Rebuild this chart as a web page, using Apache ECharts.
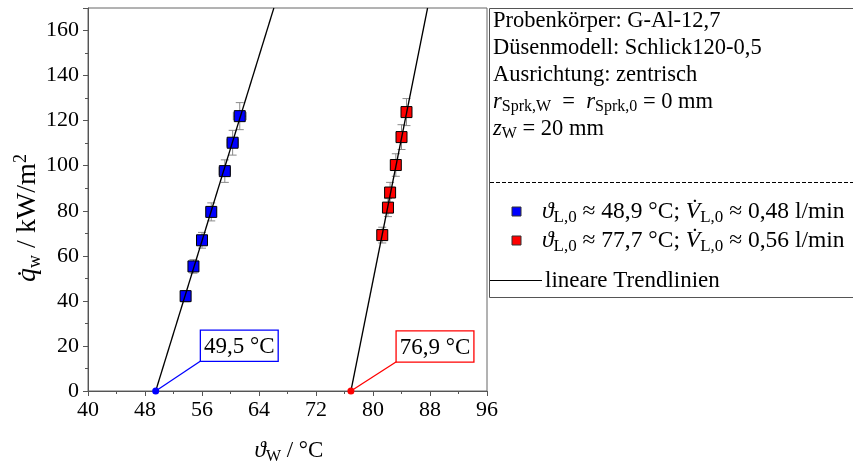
<!DOCTYPE html>
<html>
<head>
<meta charset="utf-8">
<script src="https://cdn.jsdelivr.net/npm/echarts@6/dist/echarts.min.js"></script>
<style>
  html, body { margin: 0; padding: 0; background: #fff; }
  #chart { width: 853px; height: 466px; }
</style>
</head>
<body>
<div id="chart"></div>
<script>
// Wall temperature (°C) vs. heat flux density (kW/m²), two coolant inlet temperatures
const blueTemp   = [53.7, 54.8, 56.0, 57.3, 59.2, 60.3, 61.3];
const blueFlux   = [42.1, 55.3, 66.9, 79.5, 97.6, 110.2, 122.0];
const blueFluxErr = [2.5, 3.0, 3.5, 4.0, 5.0, 5.5, 6.0];
const blueTempErr = [0.5, 0.6, 0.6, 0.7, 0.8, 0.8, 0.9];

const redTemp    = [81.3, 82.1, 82.4, 83.2, 84.0, 84.7];
const redFlux    = [69.2, 81.4, 88.1, 100.3, 112.7, 123.8];
const redFluxErr = [3.5, 4.0, 4.5, 5.0, 5.5, 6.0];
const redTempErr = [0.4, 0.4, 0.5, 0.5, 0.5, 0.6];

// linear trend lines: wall temperature at zero flux and slope in kW/m² per K
const blueIntercept = 49.5, blueSlope = 10.25;
const redIntercept  = 76.9, redSlope  = 15.8;

const xTicks = [40, 48, 56, 64, 72, 80, 88, 96];
const yTicks = [0, 20, 40, 60, 80, 100, 120, 140, 160];

const blueLabel = '49,5 °C';
const redLabel  = '76,9 °C';

const FONT = '"Liberation Serif", "Times New Roman", serif';
const BLUE = '#0000ff', RED = '#ff0000';
const Y_TOP = 170;

// lower-left corner of each annotation box, in data coordinates
const blueBoxAt = [55.86, 13.4];
const redBoxAt  = [83.33, 13.1];

function pairs(xs, ys) { return xs.map((x, i) => [x, ys[i]]); }

function errorBars(xs, ys, ex, ey) {
  return {
    type: 'custom',
    z: 2,
    silent: true,
    data: xs.map((x, i) => [x, ys[i], ex[i], ey[i]]),
    renderItem(params, api) {
      const x = api.value(0), y = api.value(1), dx = api.value(2), dy = api.value(3);
      const top = api.coord([x, y + dy]), bot = api.coord([x, y - dy]);
      const lft = api.coord([x - dx, y]), rgt = api.coord([x + dx, y]);
      const cap = 4;
      const st = { stroke: '#8a8a8a', lineWidth: 1 };
      const seg = (x1, y1, x2, y2) => ({ type: 'line', shape: { x1, y1, x2, y2 }, style: st });
      return {
        type: 'group',
        children: [
          seg(top[0], top[1], bot[0], bot[1]),
          seg(top[0] - cap, top[1], top[0] + cap, top[1]),
          seg(bot[0] - cap, bot[1], bot[0] + cap, bot[1]),
          seg(lft[0], lft[1], rgt[0], rgt[1]),
          seg(lft[0], lft[1] - cap, lft[0], lft[1] + cap),
          seg(rgt[0], rgt[1] - cap, rgt[0], rgt[1] + cap)
        ]
      };
    }
  };
}

function trendLine(intercept, slope) {
  return {
    type: 'line',
    z: 5,
    silent: true,
    symbol: 'none',
    lineStyle: { color: '#000', width: 1.3 },
    data: [[intercept, 0], [intercept + Y_TOP / slope, Y_TOP]]
  };
}

function pointer(intercept, boxAt, color) {
  return {
    type: 'line',
    z: 6,
    silent: true,
    lineStyle: { color, width: 1.3 },
    itemStyle: { color, opacity: 1 },
    data: [
      { value: [intercept, 0], symbol: 'circle', symbolSize: 7 },
      { value: boxAt, symbol: 'none' }
    ]
  };
}

function valueBox(boxAt, text, color) {
  return {
    type: 'scatter',
    z: 7,
    silent: true,
    symbolSize: 0,
    itemStyle: { opacity: 1 },
    data: [boxAt],
    label: {
      show: true,
      formatter: text,
      position: [0, 0],
      align: 'left',
      verticalAlign: 'bottom',
      fontFamily: FONT,
      fontSize: 23,
      color: '#000',
      opacity: 1,
      backgroundColor: '#fff',
      borderColor: color,
      borderWidth: 1.3,
      padding: [5, 3, 2, 3]
    }
  };
}

function markers(xs, ys, color) {
  return {
    type: 'scatter',
    z: 4,
    symbol: 'rect',
    symbolSize: 11,
    itemStyle: { color, borderColor: '#000', borderWidth: 1, opacity: 1 },
    data: pairs(xs, ys)
  };
}

function richSet(size, subSize) {
  return {
    n:   { fontFamily: FONT, fontSize: size, color: '#000', lineHeight: size + 4 },
    i:   { fontFamily: FONT, fontSize: size, color: '#000', fontStyle: 'italic', lineHeight: size + 4 },
    sub: { fontFamily: FONT, fontSize: subSize, color: '#000', verticalAlign: 'bottom', lineHeight: Math.round(subSize * 0.75) },
    sup: { fontFamily: FONT, fontSize: subSize, color: '#000', verticalAlign: 'top', lineHeight: Math.round(subSize * 0.75) }
  };
}
const richPanel = richSet(22.5, 16);
const richEntry = richSet(23.5, 17);
const richX = richSet(23, 16);
const richY = richSet(28, 18);

function panelText(x, y, text, rich) {
  return {
    type: 'text', x, y, z: 20,
    style: { text, rich: rich || richPanel, verticalAlign: 'middle', align: 'left' }
  };
}

const chart = echarts.init(document.getElementById('chart'), null, { renderer: 'canvas' });

chart.setOption({
  animation: false,
  backgroundColor: '#fff',
  grid: { left: 88, right: 366, top: 8, bottom: 75, show: true, borderColor: '#666', borderWidth: 1 },
  xAxis: {
    type: 'value',
    min: xTicks[0], max: xTicks[xTicks.length - 1], interval: xTicks[1] - xTicks[0],
    axisLine: { lineStyle: { color: '#555', width: 1 } },
    axisTick: { inside: false, length: 5, lineStyle: { color: '#555' } },
    minorTick: { show: true, splitNumber: 2, length: 3, lineStyle: { color: '#555' } },
    splitLine: { show: false },
    axisLabel: { fontFamily: FONT, fontSize: 22, color: '#000', margin: 8 }
  },
  yAxis: {
    type: 'value',
    min: yTicks[0], max: Y_TOP, interval: yTicks[1] - yTicks[0],
    axisLine: { lineStyle: { color: '#555', width: 1 } },
    axisTick: { inside: false, length: 5, lineStyle: { color: '#555' } },
    minorTick: { show: true, splitNumber: 2, length: 3, lineStyle: { color: '#555' } },
    splitLine: { show: false },
    axisLabel: { fontFamily: FONT, fontSize: 22, color: '#000', margin: 9, showMaxLabel: false }
  },
  series: [
    errorBars(blueTemp, blueFlux, blueTempErr, blueFluxErr),
    errorBars(redTemp, redFlux, redTempErr, redFluxErr),
    markers(blueTemp, blueFlux, BLUE),
    markers(redTemp, redFlux, RED),
    trendLine(blueIntercept, blueSlope),
    trendLine(redIntercept, redSlope),
    pointer(blueIntercept, blueBoxAt, BLUE),
    pointer(redIntercept, redBoxAt, RED),
    valueBox(blueBoxAt, blueLabel, BLUE),
    valueBox(redBoxAt, redLabel, RED)
  ],
  graphic: [
    // axis titles
    {
      type: 'text', x: 289, y: 451, z: 20,
      style: { text: '{i|ϑ}{sub|W}{n| / °C}', rich: richX, align: 'center', verticalAlign: 'middle' }
    },
    {
      type: 'text', x: 28, y: 218, rotation: Math.PI / 2, z: 20,
      style: { text: '{i|q\u0307}{sub|w}{n| / kW/m}{sup|2}', rich: richY, align: 'center', verticalAlign: 'middle' }
    },
    // info / legend panel
    {
      type: 'rect', z: 15,
      shape: { x: 489.5, y: 8.5, width: 380, height: 289 },
      style: { fill: '#fff', stroke: '#555', lineWidth: 1 }
    },
    panelText(493, 21, '{n|Probenkörper: G-Al-12,7}'),
    panelText(493, 48, '{n|Düsenmodell: Schlick120-0,5}'),
    panelText(493, 75, '{n|Ausrichtung: zentrisch}'),
    panelText(493, 102, '{i|r}{sub|Sprk,W}{n|  =  }{i|r}{sub|Sprk,0}{n| = 0 mm}'),
    panelText(493, 129, '{i|z}{sub|W}{n| = 20 mm}'),
    {
      type: 'line', z: 16,
      shape: { x1: 490, y1: 182.5, x2: 853, y2: 182.5 },
      style: { stroke: '#000', lineWidth: 1, lineDash: [4, 2] }
    },
    {
      type: 'rect', z: 16,
      shape: { x: 512, y: 207, width: 9, height: 9 },
      style: { fill: BLUE, stroke: '#333', lineWidth: 1 }
    },
    panelText(542, 212, '{i|ϑ}{sub|L,0}{n| ≈ 48,9 °C; }{i|V\u0307}{sub|L,0}{n| ≈ 0,48 l/min}', richEntry),
    {
      type: 'rect', z: 16,
      shape: { x: 512, y: 236, width: 9, height: 9 },
      style: { fill: RED, stroke: '#333', lineWidth: 1 }
    },
    panelText(542, 241, '{i|ϑ}{sub|L,0}{n| ≈ 77,7 °C; }{i|V\u0307}{sub|L,0}{n| ≈ 0,56 l/min}', richEntry),
    {
      type: 'line', z: 16,
      shape: { x1: 490, y1: 280.5, x2: 542, y2: 280.5 },
      style: { stroke: '#000', lineWidth: 1.2 }
    },
    panelText(545, 281, '{n|lineare Trendlinien}', richSet(23, 16))
  ]
});
</script>
</body>
</html>
